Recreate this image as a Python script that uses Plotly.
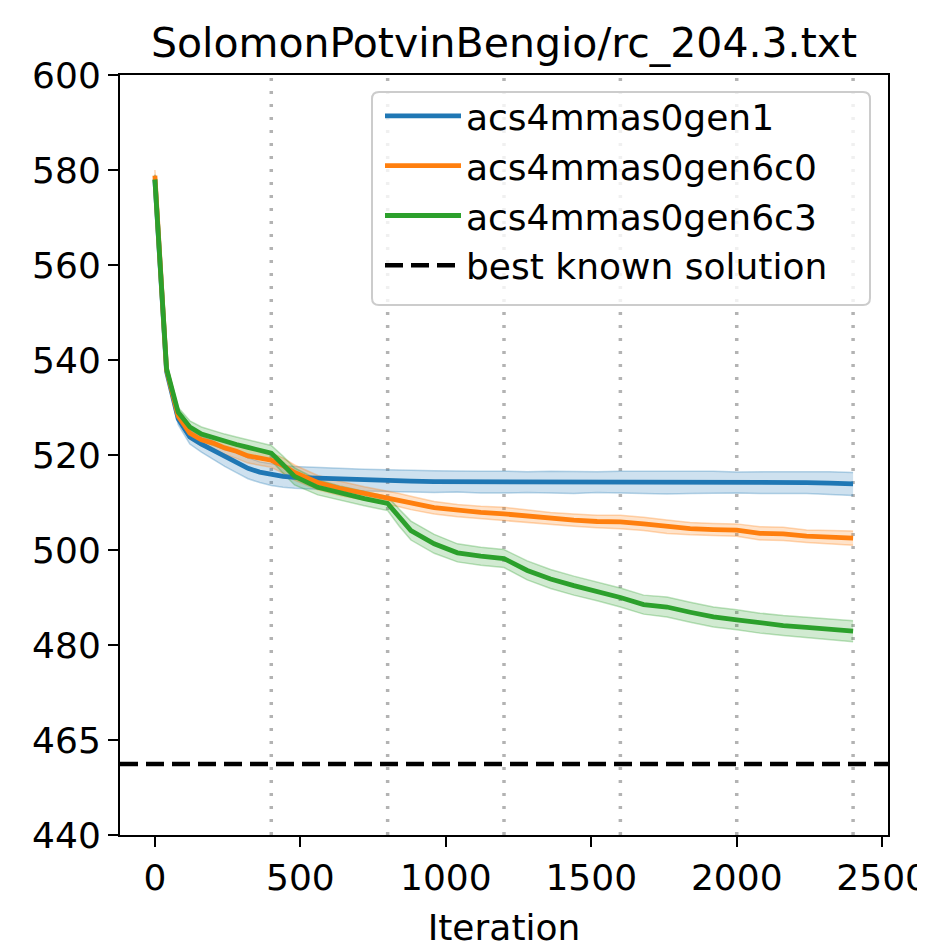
import numpy as np
import plotly.graph_objects as go

# ---------------- data ----------------
iterations = [0, 40, 80, 120, 160, 200, 240, 280, 320, 360, 400, 440, 480, 560, 640, 720, 800,
              840, 880, 960, 1040, 1120, 1200, 1280, 1360, 1440, 1520, 1600, 1680, 1760, 1840,
              1920, 2000, 2080, 2160, 2240, 2320, 2400]

gen1_mean = [578.0, 537.6, 527.6, 523.8, 522.3, 521.0, 519.6, 518.4, 517.2, 516.4, 515.9, 515.5,
             515.3, 515.1, 514.9, 514.7, 514.6, 514.6, 514.5, 514.4, 514.4, 514.3, 514.3, 514.3,
             514.3, 514.2, 514.3, 514.3, 514.3, 514.2, 514.2, 514.3, 514.2, 514.2, 514.2, 514.2,
             514.1, 513.9]
gen1_ci = [1.0, 0.8, 1.2, 1.5, 1.7, 1.9, 2.0, 2.1, 2.2, 2.2, 2.3, 2.3, 2.3, 2.3, 2.2, 2.3, 2.3,
           2.2, 2.3, 2.3, 2.2, 2.3, 2.3, 2.2, 2.3, 2.3, 2.2, 2.3, 2.3, 2.4, 2.3, 2.3, 2.2, 2.3,
           2.3, 2.3, 2.4, 2.4]

gen6c0_mean = [578.8, 538.0, 528.2, 524.6, 523.2, 522.5, 521.5, 520.8, 519.8, 519.3, 518.9, 517.8,
               516.3, 514.2, 512.9, 511.9, 511.0, 510.5, 509.9, 508.9, 508.3, 507.9, 507.6, 507.1,
               506.6, 506.3, 506.0, 505.9, 505.5, 504.9, 504.5, 504.3, 504.2, 503.5, 503.4, 502.9,
               502.7, 502.5]
gen6c0_ci = [1.2, 0.8, 1.0, 1.2, 1.3, 1.4, 1.4, 1.5, 1.5, 1.5, 1.5, 1.6, 1.6, 1.5, 1.5, 1.4, 1.4,
             1.4, 1.4, 1.3, 1.3, 1.3, 1.4, 1.4, 1.3, 1.3, 1.3, 1.4, 1.4, 1.4, 1.3, 1.3, 1.3, 1.4,
             1.4, 1.3, 1.4, 1.5]

gen6c3_mean = [578.0, 538.2, 529.0, 525.9, 524.4, 523.6, 522.8, 522.2, 521.6, 520.9, 520.4, 518.0,
               515.5, 513.2, 511.9, 510.8, 509.8, 506.8, 504.1, 501.3, 499.4, 498.7, 498.2, 495.7,
               493.9, 492.5, 491.3, 490.0, 488.5, 488.0, 486.9, 485.9, 485.3, 484.6, 484.1, 483.7,
               483.3, 482.9]
gen6c3_ci = [1.0, 0.8, 1.0, 1.3, 1.5, 1.5, 1.6, 1.6, 1.6, 1.6, 1.6, 1.8, 1.8, 1.6, 1.5, 1.5, 1.5,
             1.8, 2.0, 2.0, 1.9, 1.9, 1.9, 2.0, 2.0, 2.0, 2.0, 2.0, 2.0, 2.1, 2.1, 2.1, 2.1, 2.1,
             2.1, 2.1, 2.2, 2.2]

series_names = ["acs4mmas0gen1", "acs4mmas0gen6c0", "acs4mmas0gen6c3"]
series_colors = ["#1f77b4", "#ff7f0e", "#2ca02c"]
series_fills = ["rgba(31,119,180,0.22)", "rgba(255,127,14,0.22)", "rgba(44,160,44,0.22)"]
series_edges = ["rgba(31,119,180,0.30)", "rgba(255,127,14,0.30)", "rgba(44,160,44,0.30)"]

best_known = 458.7
restart_iters = [400, 800, 1200, 1600, 2000, 2400]

x_tick_vals = [0, 500, 1000, 1500, 2000, 2500]
y_tick_labels = [440, 465, 480, 500, 520, 540, 560, 580, 600]
# the y axis of the reference is piecewise: evenly spaced ticks 440 | 465 | 480 | 500 ...
y_knots_value = [440, 465, 480, 600]
y_knots_axis = [440, 460, 480, 600]


def to_axis(v):
    return np.interp(np.asarray(v, dtype=float), y_knots_value, y_knots_axis)


FONT = "DejaVu Sans"
W, H = 917, 942  # page body has an 8px margin
ML, MT, PW, PH = 112, 67, 768, 760
fig = go.Figure()

means = [gen1_mean, gen6c0_mean, gen6c3_mean]
cis = [gen1_ci, gen6c0_ci, gen6c3_ci]

# bands
for m, c, fillc, edgec in zip(means, cis, series_fills, series_edges):
    m = np.array(m)
    c = np.array(c)
    lo = to_axis(m - c)
    hi = to_axis(m + c)
    fig.add_trace(go.Scatter(x=iterations, y=hi, mode="lines",
                             line=dict(color=edgec, width=1.5), showlegend=False, hoverinfo="skip"))
    fig.add_trace(go.Scatter(x=iterations, y=lo, mode="lines", fill="tonexty", fillcolor=fillc,
                             line=dict(color=edgec, width=1.5), showlegend=False, hoverinfo="skip"))

# mean lines
for m, name, col in zip(means, series_names, series_colors):
    fig.add_trace(go.Scatter(x=iterations, y=to_axis(m), mode="lines", name=name,
                             line=dict(color=col, width=4.8)))

# restart markers (vertical dotted lines)
for xi in restart_iters:
    fig.add_shape(type="line", x0=xi, x1=xi, y0=0, y1=1, xref="x", yref="paper",
                  line=dict(color="rgba(160,160,160,0.8)", width=3.5, dash="3px,10px"), layer="below")

# best known solution
fig.add_trace(go.Scatter(x=[-120, 2520], y=to_axis([best_known, best_known]), mode="lines",
                         name="best known solution",
                         line=dict(color="black", width=4.5, dash="18px,8px")))


# legend frame (rounded box, matplotlib style), given in page pixels of the plot area
def px2paper(px, py):
    return (px - 120) / PW, (835 - py) / PH


def rounded_box(x0, y0, x1, y1, r):
    pts = [("M", [(x0 + r, y0)]), ("L", [(x1 - r, y0)]), ("Q", [(x1, y0), (x1, y0 + r)]),
           ("L", [(x1, y1 - r)]), ("Q", [(x1, y1), (x1 - r, y1)]), ("L", [(x0 + r, y1)]),
           ("Q", [(x0, y1), (x0, y1 - r)]), ("L", [(x0, y0 + r)]), ("Q", [(x0, y0), (x0 + r, y0)])]
    s = ""
    for cmd, ps in pts:
        s += cmd + " " + " ".join("%.5f,%.5f" % px2paper(*p) for p in ps) + " "
    return s + "Z"


fig.add_shape(type="path", path=rounded_box(372, 92, 870, 305, 7), xref="paper", yref="paper",
              line=dict(color="#cccccc", width=2), fillcolor="rgba(255,255,255,0.8)", layer="above")

fig.update_layout(
    width=W, height=H,
    margin=dict(l=ML, r=W - ML - PW, t=MT, b=H - MT - PH),
    paper_bgcolor="white", plot_bgcolor="white",
    font=dict(family=FONT, size=36, color="black"),
    title=dict(text="SolomonPotvinBengio/rc_204.3.txt", x=(ML + ML + PW) / 2 / W, xanchor="center",
               y=1 - 35 / H, yanchor="middle", yref="container",
               font=dict(family=FONT, size=41, color="black")),
    showlegend=True,
    legend=dict(x=(380 - 120) / PW, y=(835 - 86) / PH, xanchor="left", yanchor="top",
                traceorder="normal", bgcolor="rgba(0,0,0,0)", borderwidth=0,
                font=dict(family=FONT, size=36, color="black"), itemwidth=76, tracegroupgap=0),
)

fig.update_xaxes(range=[-120, 2520], tickvals=x_tick_vals,
                 ticktext=[str(v) for v in x_tick_vals],
                 showline=True, linecolor="black", linewidth=2, mirror=True,
                 ticks="outside", ticklen=10, tickwidth=2, tickcolor="black",
                 showgrid=False, zeroline=False, automargin=False, ticklabeloverflow="allow",
                 title=dict(text="Iteration", standoff=18, font=dict(family=FONT, size=36)))

fig.update_yaxes(range=[440, 600], tickvals=list(to_axis(y_tick_labels)),
                 ticktext=[str(v) for v in y_tick_labels],
                 showline=True, linecolor="black", linewidth=2, mirror=True,
                 ticks="outside", ticklen=10, tickwidth=2, tickcolor="black",
                 showgrid=False, zeroline=False, automargin=False)

fig.write_html("out.html")
